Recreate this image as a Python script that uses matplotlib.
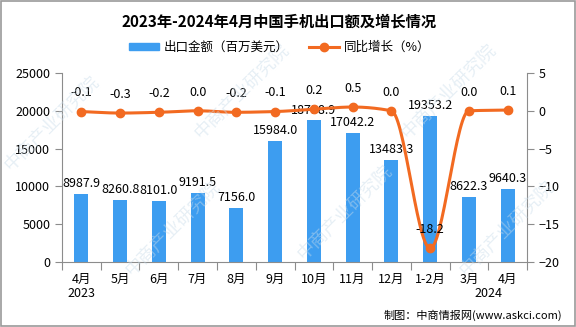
import numpy as np
import matplotlib.pyplot as plt
from matplotlib.patches import Patch, Rectangle
from matplotlib.lines import Line2D

plt.rcParams['font.family'] = ['Noto Sans CJK SC', 'DejaVu Sans']

# 数据区域
months = ['4月', '5月', '6月', '7月', '8月', '9月', '10月', '11月', '12月', '1-2月', '3月', '4月']
export_value = [8987.9, 8260.8, 8101.0, 9191.5, 7156.0, 15984.0, 18738.9, 17042.2,
                13483.3, 19353.2, 8622.3, 9640.3]
yoy_growth = [-0.1, -0.3, -0.2, 0.0, -0.2, -0.1, 0.2, 0.5, 0.0, -18.2, 0.0, 0.1]

bar_color = '#3d9df0'
line_color = '#f26a21'
axis_color = '#8c8c8c'


def smooth(xs, ys, n=30):
    # 单调三次插值（Fritsch-Carlson），只用来画平滑曲线
    xs = np.asarray(xs, float)
    ys = np.asarray(ys, float)
    h = np.diff(xs)
    s = np.diff(ys) / h
    m = np.zeros_like(ys)
    for k in range(1, len(ys) - 1):
        if s[k - 1] * s[k] > 0:
            m[k] = 2.0 / (1.0 / s[k - 1] + 1.0 / s[k])
    m[0], m[-1] = s[0], s[-1]
    t = np.linspace(0, 1, n, endpoint=False)
    h00 = 2 * t ** 3 - 3 * t ** 2 + 1
    h10 = t ** 3 - 2 * t ** 2 + t
    h01 = -2 * t ** 3 + 3 * t ** 2
    h11 = t ** 3 - t ** 2
    out_x, out_y = [], []
    for i in range(len(xs) - 1):
        out_x.extend(xs[i] + t * h[i])
        out_y.extend(h00 * ys[i] + h10 * h[i] * m[i] + h01 * ys[i + 1] + h11 * h[i] * m[i + 1])
    out_x.append(xs[-1])
    out_y.append(ys[-1])
    return np.array(out_x), np.array(out_y)


fig = plt.figure(figsize=(5.76, 3.27), dpi=100)
fig.patches.append(Rectangle((0.001, 0.002), 0.997, 0.995, transform=fig.transFigure,
                             fill=False, edgecolor='#9a9a9a', linewidth=1.2))

# 水印
for wx, wy in [(0.09, 0.62), (0.3, 0.3), (0.42, 0.72), (0.6, 0.35), (0.78, 0.72), (0.88, 0.3)]:
    fig.text(wx, wy, '中商产业研究院', rotation=45, fontsize=13, color='#c9dcea',
             alpha=0.45, ha='center', va='center', zorder=0)

ax = fig.add_axes([0.1076, 0.1988, 0.8074, 0.578])
ax.patch.set_alpha(0)
x = np.arange(len(months))

ax.bar(x, export_value, width=0.36, color=bar_color, zorder=2)
ax.set_xlim(-0.5, len(months) - 0.5)
ax.set_ylim(0, 25000)
ax.set_yticks(range(0, 25001, 5000))
for xi, v in zip(x, export_value):
    ax.text(xi, v + 500, f'{v:.1f}', ha='center', va='bottom', fontsize=9, zorder=5)

ax2 = ax.twinx()
ax2.set_ylim(-20, 5)
ax2.set_yticks(range(-20, 6, 5))
sx, sy = smooth(x, yoy_growth)
ax2.plot(sx, sy, color=line_color, linewidth=2.2, zorder=3)
ax2.plot(x, yoy_growth, 'o', color=line_color, markersize=6, zorder=4)
for xi, v in zip(x, yoy_growth):
    ax2.text(xi, v + 1.6, f'{v:.1f}', ha='center', va='bottom', fontsize=9, zorder=5)

# 坐标轴样式
for a in (ax, ax2):
    a.spines['top'].set_visible(False)
    for s in ('left', 'right', 'bottom'):
        a.spines[s].set_color(axis_color)
    a.tick_params(colors=axis_color, labelcolor='black', labelsize=9, length=5)
ax.spines['right'].set_visible(False)
ax2.spines['left'].set_visible(False)
ax2.spines['bottom'].set_visible(False)

ax.set_xticks(np.arange(-0.5, len(months), 1))
ax.set_xticklabels([])
ax.tick_params(axis='x', length=6)
for xi, m in zip(x, months):
    ax.text(xi, -0.09, m, transform=ax.get_xaxis_transform(), ha='center', va='center', fontsize=9)
ax.text(0, -0.165, '2023', transform=ax.get_xaxis_transform(), ha='center', va='center', fontsize=9)
ax.text(10.5, -0.165, '2024', transform=ax.get_xaxis_transform(), ha='center', va='center', fontsize=9)

# 标题和图例
fig.text(0.485, 0.935, '2023年-2024年4月中国手机出口额及增长情况', ha='center', va='center',
         fontsize=11, fontweight='bold')
handles = [Patch(color=bar_color),
           Line2D([0], [0], color=line_color, linewidth=2.2, marker='o', markersize=6)]
fig.legend(handles, ['出口金额（百万美元）', '同比增长（%）'], loc='center',
           bbox_to_anchor=(0.485, 0.855), ncol=2, frameon=False, fontsize=9,
           handlelength=2.4, handleheight=0.6, columnspacing=1.6, handletextpad=0.4)

fig.text(0.976, 0.035, '制图：中商情报网(www.askci.com)', ha='right', va='center', fontsize=8)

plt.savefig('out.png', dpi=100)
